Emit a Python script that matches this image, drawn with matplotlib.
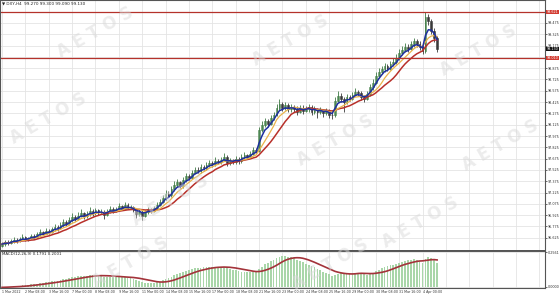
import numpy as np
import pandas as pd
import matplotlib
matplotlib.use("Agg")
import matplotlib.pyplot as plt
import matplotlib.transforms as mtransforms

# DXY H4 candles (open of each bar = previous close)
FIRST_OPEN = 96.52
CLOSE = [
    96.54, 96.57, 96.55, 96.58, 96.60, 96.58, 96.61, 96.63, 96.60, 96.62,
    96.65, 96.63, 96.67, 96.70, 96.68, 96.72, 96.70, 96.74, 96.77, 96.75,
    96.79, 96.83, 96.81, 96.86, 96.90, 96.88, 96.92, 96.95, 96.91, 96.94,
    96.98, 96.95, 96.99, 96.96, 96.97, 96.93, 96.97, 97.01, 96.98, 97.00,
    97.04, 97.01, 97.06, 97.02, 97.03, 96.99, 96.94, 96.97, 96.92, 96.96,
    97.00, 96.98, 97.02, 97.06, 97.10, 97.15, 97.21, 97.19, 97.27, 97.33,
    97.36, 97.31, 97.39, 97.44, 97.42, 97.49, 97.53, 97.51, 97.56, 97.55,
    97.59, 97.62, 97.60, 97.65, 97.63, 97.66, 97.70, 97.62, 97.65, 97.63,
    97.67, 97.64, 97.69, 97.72, 97.70, 97.74, 97.79, 97.78, 98.06, 98.12,
    98.17, 98.14, 98.22, 98.26, 98.35, 98.40, 98.35, 98.38, 98.33, 98.36,
    98.34, 98.30, 98.35, 98.31, 98.33, 98.36, 98.30, 98.33, 98.29, 98.32,
    98.28, 98.31, 98.26, 98.25, 98.44, 98.51, 98.46, 98.43, 98.49, 98.47,
    98.52, 98.56, 98.54, 98.49, 98.47, 98.53, 98.62, 98.68, 98.77, 98.83,
    98.86, 98.90, 98.87, 98.93, 98.96, 99.01, 99.08, 99.12, 99.16, 99.13,
    99.19, 99.23, 99.20, 99.15, 99.10, 99.56, 99.50, 99.37, 99.27, 99.13,
]
HIGH = [
    96.57, 96.59, 96.60, 96.61, 96.63, 96.62, 96.64, 96.67, 96.65, 96.64,
    96.68, 96.67, 96.70, 96.74, 96.72, 96.75, 96.74, 96.77, 96.81, 96.79,
    96.83, 96.88, 96.86, 96.90, 96.95, 96.93, 96.96, 97.00, 96.97, 96.98,
    97.03, 97.00, 97.02, 97.01, 97.00, 96.99, 97.00, 97.05, 97.03, 97.03,
    97.08, 97.06, 97.10, 97.08, 97.06, 97.05, 97.01, 97.00, 96.99, 96.99,
    97.03, 97.02, 97.05, 97.10, 97.14, 97.19, 97.26, 97.24, 97.31, 97.38,
    97.41, 97.38, 97.43, 97.48, 97.47, 97.53, 97.57, 97.56, 97.60, 97.59,
    97.63, 97.66, 97.65, 97.69, 97.67, 97.70, 97.75, 97.72, 97.68, 97.67,
    97.71, 97.69, 97.73, 97.76, 97.74, 97.78, 97.83, 97.82, 98.10, 98.18,
    98.22, 98.20, 98.26, 98.30, 98.40, 98.46, 98.43, 98.42, 98.41, 98.40,
    98.39, 98.37, 98.39, 98.38, 98.37, 98.40, 98.38, 98.37, 98.35, 98.36,
    98.34, 98.35, 98.33, 98.29, 98.49, 98.57, 98.54, 98.49, 98.53, 98.52,
    98.56, 98.61, 98.59, 98.57, 98.52, 98.57, 98.67, 98.73, 98.82, 98.88,
    98.91, 98.95, 98.93, 98.97, 99.01, 99.06, 99.13, 99.17, 99.21, 99.19,
    99.24, 99.28, 99.26, 99.23, 99.18, 99.62, 99.60, 99.53, 99.41, 99.30,
]
LOW = [
    96.50, 96.52, 96.53, 96.54, 96.56, 96.55, 96.57, 96.60, 96.58, 96.58,
    96.61, 96.61, 96.62, 96.65, 96.66, 96.67, 96.67, 96.69, 96.72, 96.72,
    96.74, 96.77, 96.78, 96.80, 96.84, 96.85, 96.86, 96.90, 96.88, 96.89,
    96.92, 96.92, 96.93, 96.93, 96.94, 96.88, 96.91, 96.95, 96.95, 96.96,
    96.98, 96.99, 97.00, 97.00, 97.00, 96.96, 96.89, 96.91, 96.86, 96.90,
    96.94, 96.95, 96.96, 97.00, 97.04, 97.08, 97.13, 97.16, 97.17, 97.25,
    97.30, 97.28, 97.29, 97.37, 97.39, 97.40, 97.47, 97.48, 97.49, 97.52,
    97.53, 97.57, 97.57, 97.58, 97.60, 97.61, 97.64, 97.58, 97.59, 97.60,
    97.61, 97.61, 97.62, 97.67, 97.67, 97.68, 97.72, 97.75, 97.76, 98.03,
    98.09, 98.10, 98.12, 98.19, 98.24, 98.32, 98.31, 98.32, 98.29, 98.30,
    98.30, 98.26, 98.28, 98.27, 98.29, 98.30, 98.25, 98.27, 98.22, 98.27,
    98.23, 98.26, 98.21, 98.20, 98.23, 98.42, 98.43, 98.30, 98.40, 98.44,
    98.45, 98.50, 98.50, 98.45, 98.43, 98.45, 98.51, 98.59, 98.66, 98.74,
    98.80, 98.83, 98.84, 98.85, 98.90, 98.93, 98.99, 99.05, 99.09, 99.09,
    99.11, 99.16, 99.16, 99.11, 99.06, 99.08, 99.45, 99.33, 99.22, 99.09,
]

PRICE_TICKS = [96.625, 96.775, 96.925, 97.075, 97.225, 97.375, 97.525,
               97.675, 97.825, 97.975, 98.125, 98.275, 98.425, 98.575,
               98.725, 98.875, 99.025, 99.175, 99.325, 99.475]
RED_LEVELS = [99.621, 99.010]
TIME_LABELS = ["1 Mar 2022", "2 Mar 08:00", "3 Mar 16:00", "7 Mar 00:00",
               "8 Mar 08:00", "9 Mar 16:00", "11 Mar 00:00", "14 Mar 08:00",
               "15 Mar 16:00", "17 Mar 00:00", "18 Mar 08:00", "21 Mar 16:00",
               "23 Mar 00:00", "24 Mar 08:00", "25 Mar 16:00", "29 Mar 00:00",
               "30 Mar 08:00", "31 Mar 16:00", "4 Apr 00:00"]

close = pd.Series(CLOSE)
opens = np.r_[FIRST_OPEN, CLOSE[:-1]]
idx = np.arange(len(CLOSE))

ma_fast = close.ewm(span=4, adjust=False).mean()
ma_mid = close.rolling(7, min_periods=1).mean()
ma_slow = close.rolling(12, min_periods=1).mean()

macd = close.ewm(span=12, adjust=False).mean() - close.ewm(span=26, adjust=False).mean()
signal = macd.rolling(9, min_periods=1).mean()

W, H = 560, 295
RIGHT = 545
fig = plt.figure(figsize=(5.6, 2.95), dpi=100)
ax = fig.add_axes([0, 1 - 251 / H, RIGHT / W, 251 / H])
ax2 = fig.add_axes([0, 1 - 288 / H, RIGHT / W, 37 / H])

xmax = -0.7 + RIGHT / 2.92
grid_x = np.arange(0, xmax, 8)
for a in (ax, ax2):
    a.set_xlim(-0.7, xmax)
    a.set_xticks(grid_x)
    a.tick_params(axis="x", length=0, labelbottom=False)
    a.grid(True, color="#e4e4e4", lw=0.6)
    a.set_axisbelow(True)
    for s in a.spines.values():
        s.set_color("#555555")
        s.set_linewidth(0.8)
    a.yaxis.tick_right()
    a.tick_params(axis="y", labelsize=2.4, length=1.2, width=0.5, pad=0.6, colors="#333333")
ax.spines["bottom"].set_linewidth(1.4)
ax2.spines["top"].set_linewidth(1.4)

# candles
up = np.array(CLOSE) >= opens
colors = np.where(up, "#3f7a45", "#3a3a3a")
ax.vlines(idx, LOW, HIGH, colors=colors, lw=0.6)
ax.bar(idx, np.array(CLOSE) - opens, bottom=opens, width=0.6,
       color=np.where(up, "#9fc89f", "#3a3a3a"), edgecolor=colors, lw=0.4)

ax.plot(idx, ma_slow, color="#b8302a", lw=1.1)
ax.plot(idx, ma_mid, color="#e9b44c", lw=0.9)
ax.plot(idx, ma_fast, color="#1f2f9e", lw=1.1)

for lvl in RED_LEVELS:
    ax.axhline(lvl, color="#b5322b", lw=0.9)

ax.set_ylim(96.449, 99.78)
ax.set_yticks(PRICE_TICKS)
# the tick under the red price box is hidden, as on the terminal
ax.set_yticklabels(["" if abs(v - RED_LEVELS[1]) < 0.05 else f"{v:.3f}" for v in PRICE_TICKS])

trans = mtransforms.blended_transform_factory(ax.transAxes, ax.transData)
for lvl in RED_LEVELS:
    ax.text(1.003, lvl, f"{lvl:.3f}", transform=trans, fontsize=2.4, color="white",
            va="center", ha="left", clip_on=False,
            bbox=dict(boxstyle="square,pad=0.12", fc="#d23a30", ec="none"))
ax.text(1.003, CLOSE[-1], f"{CLOSE[-1]:.3f}", transform=trans, fontsize=2.4,
        color="white", va="center", ha="left", clip_on=False,
        bbox=dict(boxstyle="square,pad=0.12", fc="#111111", ec="none"))

ax.text(0.004, 0.995, f"\u25bc DXY,H4  {opens[-1]:.3f} {HIGH[-1]:.3f} {LOW[-1]:.3f} {CLOSE[-1]:.3f}",
        transform=ax.transAxes, fontsize=3.0, va="top", ha="left", color="#222222")

# MACD
ax2.bar(idx, macd, width=0.6, color="#a9d6a9", edgecolor="none")
ax2.plot(idx, signal, color="#a3333a", lw=1.2)
lo, hi = macd.min(), macd.max()
ax2.set_ylim(lo - 0.02 * (hi - lo), hi + 0.16 * (hi - lo))
top_lbl = hi + 0.12 * (hi - lo)
ax2.set_yticks([lo + 0.02 * (hi - lo), top_lbl])
ax2.set_yticklabels([f"{lo:.4f}", f"{top_lbl:.4f}"])
ax2.text(0.004, 0.97, f"MACD(12,26,9) {macd.iloc[-1]:.4f} {signal.iloc[-1]:.4f}",
         transform=ax2.transAxes, fontsize=2.8, va="top", ha="left", color="#222222")

tl = mtransforms.blended_transform_factory(ax2.transData, ax2.transAxes)
for k, lab in enumerate(TIME_LABELS):
    ax2.text(k * 8, -0.06, lab, transform=tl, fontsize=2.3, va="top", ha="left", color="#333333")

# watermark
for (px, py) in [(95, 32), (290, 40), (478, 50), (48, 118), (335, 140), (500, 145),
                 (170, 200), (420, 222), (130, 262), (330, 264)]:
    fig.text(px / W, 1 - py / H, "A E T O S", fontsize=12, fontweight="bold",
             color="#d9d9d9", alpha=0.5, rotation=30, ha="center", va="center")

fig.savefig("out.png", dpi=100)
